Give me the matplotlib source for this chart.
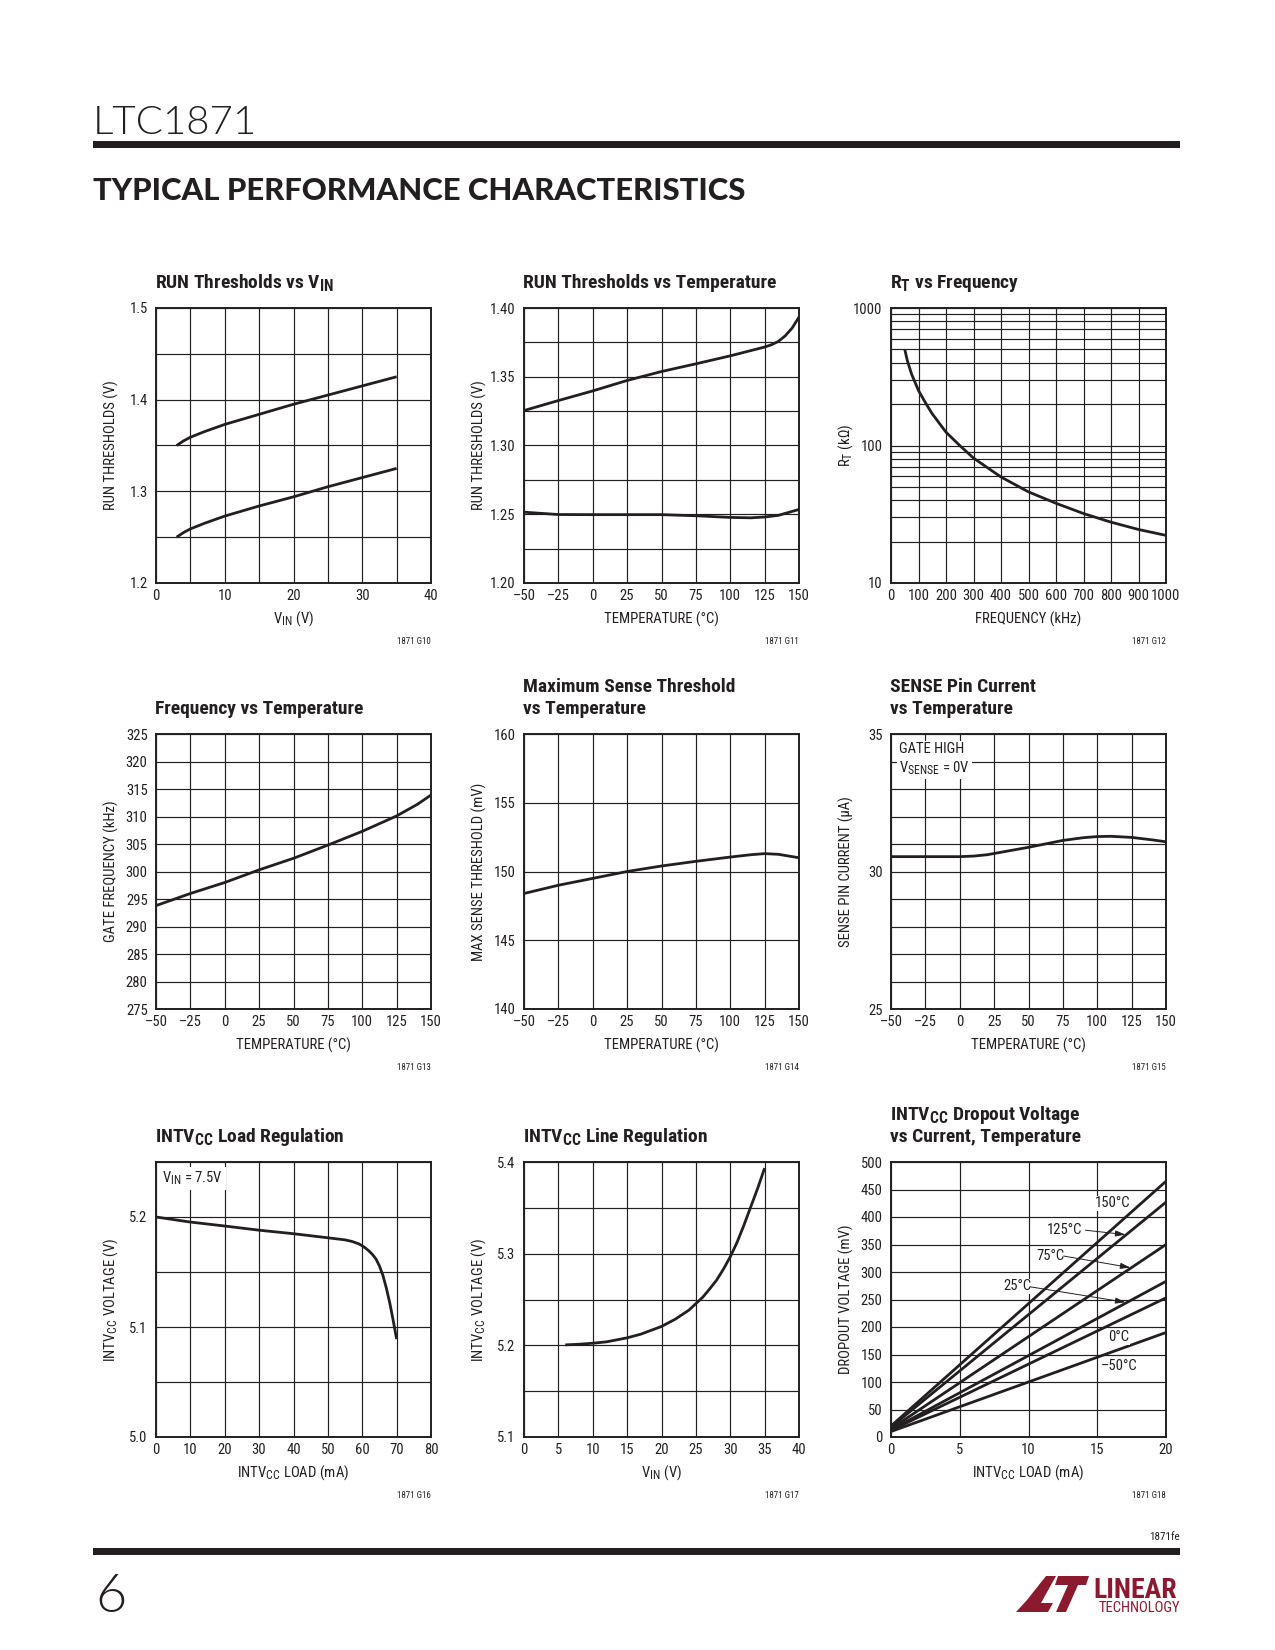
import matplotlib
matplotlib.use("Agg")
import matplotlib.pyplot as plt
from matplotlib import font_manager as fm
from matplotlib.patches import Rectangle, Polygon
from matplotlib.ticker import NullFormatter, FixedLocator, LogLocator

try:
    import matplotlib._mathtext as _mt
    if hasattr(_mt, "SHRINK_FACTOR"):
        _mt.SHRINK_FACTOR = 0.8
except Exception:
    pass

# ---------------- data ----------------
# G10 RUN thresholds vs VIN
g10_vin = [3, 4, 5, 7, 10, 15, 20, 25, 30, 35]
g10_upper = [1.350, 1.355, 1.359, 1.365, 1.373, 1.384, 1.395, 1.405, 1.415, 1.425]
g10_lower = [1.250, 1.255, 1.259, 1.265, 1.273, 1.284, 1.294, 1.305, 1.315, 1.325]
# G11 RUN thresholds vs temperature
g11_temp_up = [-50, -25, 0, 25, 50, 75, 100, 125, 130, 135, 140, 145, 150]
g11_upper = [1.3254, 1.3327, 1.3397, 1.3473, 1.3538, 1.3594, 1.3652, 1.3716, 1.3733, 1.3757,
             1.3798, 1.3854, 1.3934]
g11_temp_lo = [-50, -25, 0, 25, 50, 75, 100, 115, 125, 135, 150]
g11_lower = [1.2515, 1.2498, 1.2497, 1.2497, 1.2497, 1.2489, 1.2477, 1.2474, 1.2480, 1.2492, 1.2535]
# G12 RT vs frequency
g12_freq = [50, 60, 75, 100, 125, 150, 200, 250, 300, 400, 500, 600, 700, 800, 900, 1000]
g12_rt = [500, 410, 330, 251, 205, 170, 125, 100, 81, 59, 46, 38, 32, 27.7, 24.5, 22.2]
# G13 frequency vs temperature
g13_temp = [-50, -25, 0, 25, 50, 75, 100, 125, 140, 150]
g13_freq = [293.8, 296.0, 298.0, 300.3, 302.4, 304.8, 307.3, 310.1, 312.2, 313.9]
# G14 max sense threshold vs temperature
g14_temp = [-50, -25, 0, 25, 50, 75, 100, 115, 125, 135, 150]
g14_mv = [148.4, 149.0, 149.5, 150.0, 150.4, 150.74, 151.05, 151.22, 151.3, 151.25, 151.0]
# G15 SENSE pin current vs temperature
g15_temp = [-50, -25, 0, 10, 20, 30, 40, 50, 60, 75, 90, 100, 110, 125, 140, 150]
g15_ua = [30.54, 30.54, 30.54, 30.56, 30.61, 30.70, 30.79, 30.88, 30.98, 31.13, 31.23, 31.27,
          31.28, 31.24, 31.15, 31.08]
# G16 INTVCC load regulation
g16_load = [0, 10, 20, 30, 40, 50, 55, 57, 59, 60, 61, 62, 63, 64, 65, 66, 67, 68, 69, 70]
g16_v = [5.200, 5.1954, 5.1918, 5.188, 5.1848, 5.1811, 5.1792, 5.1778, 5.1756, 5.1738, 5.1716,
         5.1690, 5.1658, 5.1618, 5.1555, 5.1470, 5.1355, 5.1220, 5.1060, 5.089]
# G17 INTVCC line regulation
g17_vin = [6, 8, 10, 12, 15, 17, 20, 22, 24, 25, 26, 27, 28, 29, 30, 31, 32, 33, 34, 35]
g17_v = [5.2005, 5.2012, 5.2023, 5.2038, 5.2082, 5.2122, 5.2206, 5.2285, 5.2385, 5.2455, 5.2525,
         5.2615, 5.2710, 5.2830, 5.2966, 5.3125, 5.3313, 5.3514, 5.3715, 5.3934]
# G18 dropout voltage vs current, temperature
g18_labels = ["150°C", "125°C", "75°C", "25°C", "0°C", "–50°C"]
g18_load = [0, 20]
g18_start = [20, 18, 15, 13, 12, 10]
g18_end = [465, 427, 350, 283, 253, 190]

# tick labels
temp_ticks = [-50, -25, 0, 25, 50, 75, 100, 125, 150]
temp_labels = ["–50", "–25", "0", "25", "50", "75", "100", "125", "150"]

# ---------------- fonts ----------------
names = {f.name for f in fm.fontManager.ttflist}
NARROW = None
for cand in ["Liberation Sans Narrow", "Roboto Condensed", "Open Sans Condensed", "DejaVu Sans Condensed"]:
    if cand in names:
        NARROW = cand
        break
scale = 1.0
if NARROW is None:
    NARROW = "Roboto" if "Roboto" in names else "DejaVu Sans"
    scale = 0.86

_WMAP = {"ultralight": 100, "light": 300, "normal": 400, "regular": 400, "book": 400,
         "medium": 500, "semibold": 600, "demibold": 600, "bold": 700, "heavy": 800,
         "extra bold": 800, "black": 900}


def _w(v):
    if isinstance(v, (int, float)):
        return int(v)
    return _WMAP.get(str(v).lower(), 400)


LIGHT, LIGHT_W = None, 400
for fam in ["Lato", "Open Sans", "Roboto", "Inter", "Noto Sans"]:
    ws = {_w(f.weight) for f in fm.fontManager.ttflist if f.name == fam}
    if 300 in ws:
        LIGHT, LIGHT_W = fam, 300
        break
if LIGHT is None:
    LIGHT = "Lato" if "Lato" in names else "DejaVu Sans"
    LIGHT_W = 400
HEAVY = "Lato" if "Lato" in names else "DejaVu Sans"

plt.rcParams["font.family"] = [NARROW, "DejaVu Sans"]
plt.rcParams["mathtext.fontset"] = "custom"
plt.rcParams["mathtext.rm"] = NARROW
plt.rcParams["mathtext.bf"] = NARROW + ":bold"
plt.rcParams["mathtext.it"] = NARROW
plt.rcParams["mathtext.default"] = "rm"

INK = "#231f20"
TICK_FS = 10.5 * scale
LAB_FS = 10.6 * scale
TITLE_FS = 14.0 * scale
CODE_FS = 6.5 * scale

W, H = 1275, 1650
fig = plt.figure(figsize=(W / 100, H / 100), dpi=100)
fig.patch.set_facecolor("white")


def fx(x):
    return x / W


def fy(y):
    return 1 - y / H


COLS = [156, 524, 891]
ROWS = [308, 734, 1162]
S = 275


def make_ax(col, row):
    return fig.add_axes([fx(COLS[col]), fy(ROWS[row] + S), S / W, S / H])


def style(ax, xlim, ylim, xgrid, ygrid, xticks, xlabels, yticks, ylabels, logy=False):
    if logy:
        ax.set_yscale("log")
    ax.set_xlim(xlim)
    ax.set_ylim(ylim)
    ax.set_xticks(xgrid, minor=True)
    if logy:
        ax.yaxis.set_minor_locator(LogLocator(base=10, subs=range(2, 10)))
        ax.yaxis.set_minor_formatter(NullFormatter())
    else:
        ax.set_yticks(ygrid, minor=True)
    ax.set_xticks(xticks)
    ax.set_xticklabels(xlabels)
    ax.yaxis.set_major_locator(FixedLocator(yticks))
    ax.set_yticklabels(ylabels)
    ax.grid(which="both", color=INK, lw=0.85)
    ax.set_axisbelow(True)
    ax.tick_params(which="both", length=0, labelsize=TICK_FS, colors=INK)
    ax.tick_params(axis="x", pad=4.5)
    ax.tick_params(axis="y", pad=6)
    for s in ax.spines.values():
        s.set_linewidth(1.4)
        s.set_color(INK)


def labels(ax, xlabel, ylabel, title_lines, code):
    ax.text(0.5, -36 / S, xlabel, transform=ax.transAxes, ha="center", va="center",
            fontsize=LAB_FS, color=INK)
    ax.text(-45 / S, 0.5, ylabel, transform=ax.transAxes, ha="center", va="center",
            rotation=90, fontsize=LAB_FS, color=INK)
    n = len(title_lines)
    for i, line in enumerate(title_lines):
        off = 20 + 22 * (n - 1 - i)
        ax.text(-1 / S, 1 + off / S, line, transform=ax.transAxes, ha="left", va="baseline",
                fontsize=TITLE_FS, fontweight="bold", color=INK)
    ax.text(1.0, -58 / S, code, transform=ax.transAxes, ha="right", va="center",
            fontsize=CODE_FS, color=INK)


LW = 2.0

# ---- G10 ----
ax = make_ax(0, 0)
style(ax, (0, 40), (1.2, 1.5), range(0, 41, 5), [1.2 + 0.05 * i for i in range(7)],
      [0, 10, 20, 30, 40], ["0", "10", "20", "30", "40"],
      [1.2, 1.3, 1.4, 1.5], ["1.2", "1.3", "1.4", "1.5"])
ax.plot(g10_vin, g10_upper, color=INK, lw=LW, solid_capstyle="butt")
ax.plot(g10_vin, g10_lower, color=INK, lw=LW, solid_capstyle="butt")
labels(ax, r"$\mathrm{V}_{\mathrm{IN}}$ (V)", "RUN THRESHOLDS (V)",
       [r"RUN Thresholds vs $\mathbf{V}_{\mathbf{IN}}$"], "1871 G10")

# ---- G11 ----
ax = make_ax(1, 0)
style(ax, (-50, 150), (1.2, 1.4), temp_ticks, [1.2 + 0.025 * i for i in range(9)],
      temp_ticks, temp_labels,
      [1.20, 1.25, 1.30, 1.35, 1.40], ["1.20", "1.25", "1.30", "1.35", "1.40"])
ax.plot(g11_temp_up, g11_upper, color=INK, lw=LW)
ax.plot(g11_temp_lo, g11_lower, color=INK, lw=LW)
labels(ax, "TEMPERATURE (°C)", "RUN THRESHOLDS (V)",
       ["RUN Thresholds vs Temperature"], "1871 G11")

# ---- G12 ----
ax = make_ax(2, 0)
style(ax, (0, 1000), (10, 1000), range(0, 1001, 100), None,
      list(range(0, 1001, 100)), [str(v) for v in range(0, 1001, 100)],
      [10, 100, 1000], ["10", "100", "1000"], logy=True)
ax.plot(g12_freq, g12_rt, color=INK, lw=LW, solid_capstyle="butt")
labels(ax, "FREQUENCY (kHz)", r"$\mathrm{R}_{\mathrm{T}}$ (kΩ)",
       [r"$\mathbf{R}_{\mathbf{T}}$ vs Frequency"], "1871 G12")

# ---- G13 ----
ax = make_ax(0, 1)
style(ax, (-50, 150), (275, 325), temp_ticks, range(275, 326, 5),
      temp_ticks, temp_labels,
      list(range(275, 326, 5)), [str(v) for v in range(275, 326, 5)])
ax.plot(g13_temp, g13_freq, color=INK, lw=LW)
labels(ax, "TEMPERATURE (°C)", "GATE FREQUENCY (kHz)",
       ["Frequency vs Temperature"], "1871 G13")

# ---- G14 ----
ax = make_ax(1, 1)
style(ax, (-50, 150), (140, 160), temp_ticks, range(140, 161, 5),
      temp_ticks, temp_labels,
      [140, 145, 150, 155, 160], ["140", "145", "150", "155", "160"])
ax.plot(g14_temp, g14_mv, color=INK, lw=LW)
labels(ax, "TEMPERATURE (°C)", "MAX SENSE THRESHOLD (mV)",
       ["Maximum Sense Threshold", "vs Temperature"], "1871 G14")

# ---- G15 ----
ax = make_ax(2, 1)
style(ax, (-50, 150), (25, 35), temp_ticks, range(25, 36),
      temp_ticks, temp_labels, [25, 30, 35], ["25", "30", "35"])
ax.plot(g15_temp, g15_ua, color=INK, lw=LW)
ax.text(8 / S, 1 - 8 / S, "GATE HIGH\n" + r"$\mathrm{V}_{\mathrm{SENSE}}$ = 0V",
        transform=ax.transAxes, ha="left", va="top", fontsize=TICK_FS, color=INK,
        linespacing=1.25,
        bbox=dict(facecolor="white", edgecolor="none", pad=1.5), zorder=5)
labels(ax, "TEMPERATURE (°C)", "SENSE PIN CURRENT (µA)",
       ["SENSE Pin Current", "vs Temperature"], "1871 G15")

# ---- G16 ----
ax = make_ax(0, 2)
style(ax, (0, 80), (5.0, 5.25), range(0, 81, 10), [5.0 + 0.05 * i for i in range(6)],
      list(range(0, 81, 10)), [str(v) for v in range(0, 81, 10)],
      [5.0, 5.1, 5.2], ["5.0", "5.1", "5.2"])
ax.plot(g16_load, g16_v, color=INK, lw=LW, solid_capstyle="butt")
ax.text(6 / S, 1 - 8 / S, r"$\mathrm{V}_{\mathrm{IN}}$ = 7.5V",
        transform=ax.transAxes, ha="left", va="top", fontsize=TICK_FS, color=INK,
        bbox=dict(facecolor="white", edgecolor="none", pad=2), zorder=5)
labels(ax, r"INT$\mathrm{V}_{\mathrm{CC}}$ LOAD (mA)", r"INT$\mathrm{V}_{\mathrm{CC}}$ VOLTAGE (V)",
       [r"INT$\mathbf{V}_{\mathbf{CC}}$ Load Regulation"], "1871 G16")

# ---- G17 ----
ax = make_ax(1, 2)
style(ax, (0, 40), (5.1, 5.4), range(0, 41, 5), [5.1 + 0.05 * i for i in range(7)],
      list(range(0, 41, 5)), [str(v) for v in range(0, 41, 5)],
      [5.1, 5.2, 5.3, 5.4], ["5.1", "5.2", "5.3", "5.4"])
ax.plot(g17_vin, g17_v, color=INK, lw=LW, solid_capstyle="butt")
labels(ax, r"$\mathrm{V}_{\mathrm{IN}}$ (V)", r"INT$\mathrm{V}_{\mathrm{CC}}$ VOLTAGE (V)",
       [r"INT$\mathbf{V}_{\mathbf{CC}}$ Line Regulation"], "1871 G17")

# ---- G18 ----
ax = make_ax(2, 2)
style(ax, (0, 20), (0, 500), range(0, 21, 5), range(0, 501, 50),
      [0, 5, 10, 15, 20], ["0", "5", "10", "15", "20"],
      list(range(0, 501, 50)), [str(v) for v in range(0, 501, 50)])
for s0, s1 in zip(g18_start, g18_end):
    ax.plot(g18_load, [s0, s1], color=INK, lw=LW)
lab_pos = [(16.1, 425), (12.6, 377), (11.6, 329), (9.17, 274), (16.56, 182), (16.56, 128.5)]
arrows = {1: ((14.14, 376), (17.05, 368)),
          2: ((12.56, 329), (17.41, 308)),
          3: ((10.14, 273), (17.05, 245))}
for i, (lab, (tx, ty)) in enumerate(zip(g18_labels, lab_pos)):
    ax.text(tx, ty, lab, ha="center", va="center", fontsize=TICK_FS, color=INK,
            bbox=dict(facecolor="white", edgecolor="none", pad=0.5), zorder=4)
    if i in arrows:
        (x0, y0), (x1, y1) = arrows[i]
        ax.annotate("", xy=(x1, y1), xytext=(x0, y0),
                    arrowprops=dict(arrowstyle="-|>,head_length=0.6,head_width=0.18",
                                    color=INK, lw=0.7, shrinkA=0, shrinkB=0), zorder=5)
labels(ax, r"INT$\mathrm{V}_{\mathrm{CC}}$ LOAD (mA)", "DROPOUT VOLTAGE (mV)",
       [r"INT$\mathbf{V}_{\mathbf{CC}}$ Dropout Voltage", "vs Current, Temperature"], "1871 G18")

# ---------------- page furniture ----------------
fig.text(fx(93), fy(134), "LTC1871", ha="left", va="baseline", fontsize=29,
         family=[LIGHT, "DejaVu Sans"], fontweight=LIGHT_W, color=INK)
fig.patches.append(Rectangle((fx(93), fy(148)), fx(1180) - fx(93), 7 / H,
                             transform=fig.transFigure, facecolor=INK, edgecolor="none"))
fig.text(fx(93), fy(200), "TYPICAL PERFORMANCE CHARACTERISTICS", ha="left", va="baseline",
         fontsize=22.3, family=[HEAVY, "DejaVu Sans"], fontweight="black", color=INK)

fig.text(fx(1180), fy(1537), "1871fe", ha="right", va="center", fontsize=8 * scale, color=INK)
fig.patches.append(Rectangle((fx(93), fy(1555)), fx(1180) - fx(93), 7 / H,
                             transform=fig.transFigure, facecolor=INK, edgecolor="none"))
fig.text(fx(95), fy(1612), "6", ha="left", va="baseline", fontsize=39,
         family=[LIGHT, "DejaVu Sans"], fontweight=LIGHT_W, color=INK)

RED = "#8c1a2e"
L_poly = [(1046, 1576), (1056, 1576), (1041, 1603), (1053, 1603), (1048, 1612), (1016, 1612), (1027, 1600)]
T_poly = [(1058, 1576), (1089, 1576), (1086, 1585), (1078, 1585), (1066, 1612), (1056, 1612),
          (1068, 1585), (1055, 1585)]
for poly in (L_poly, T_poly):
    fig.patches.append(Polygon([(fx(x), fy(y)) for x, y in poly], closed=True,
                               transform=fig.transFigure, facecolor=RED, edgecolor="none"))
fig.text(fx(1093), fy(1598), "LINEAR", ha="left", va="baseline", fontsize=20, fontweight="bold",
         color=RED)
fig.text(fx(1180), fy(1612), "TECHNOLOGY", ha="right", va="baseline", fontsize=10.5 * scale,
         color=RED)

fig.savefig("out.png", dpi=100, facecolor="white")
